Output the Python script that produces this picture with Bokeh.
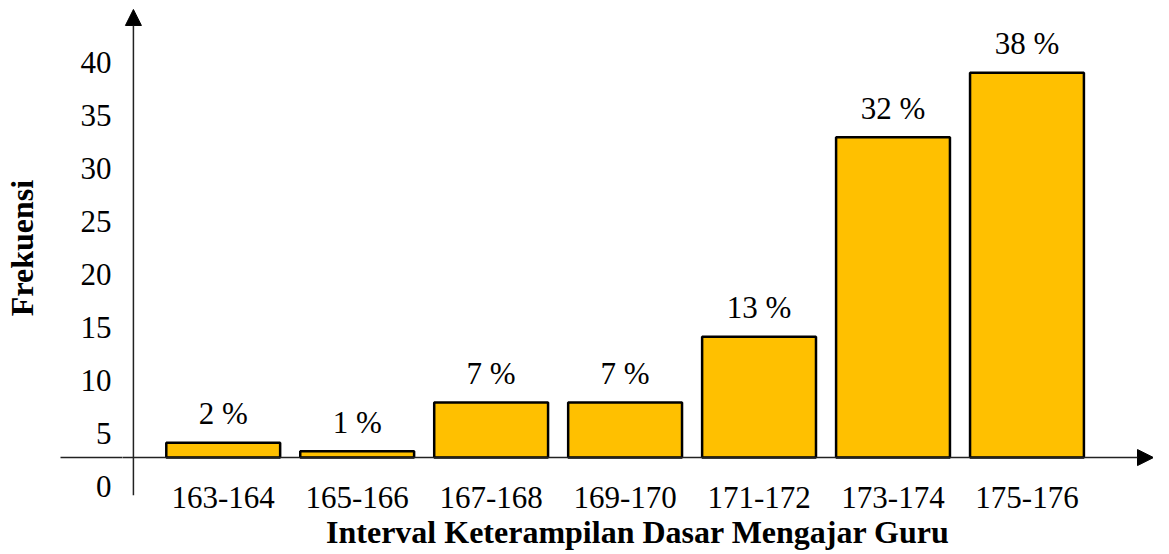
from bokeh.plotting import figure
from bokeh.models import Range1d, LinearAxis, FixedTicker, Arrow, NormalHead, ColumnDataSource
from bokeh.core.properties import value
from bokeh.embed import file_html
from bokeh.resources import INLINE

# ---- data ----
categories = ["163-164", "165-166", "167-168", "169-170", "171-172", "173-174", "175-176"]
frequencies = [1.4, 0.6, 5.2, 5.2, 11.4, 30.2, 36.3]
percentages = [2, 1, 7, 7, 13, 32, 38]
y_ticks = [0, 5, 10, 15, 20, 25, 30, 35, 40]
x_title = "Interval Keterampilan Dasar Mengajar Guru"
y_title = "Frekuensi"

# ---- layout constants (pixels) ----
W, H = 1153, 552
BORDER_L = 114
FRAME_H = 496
BORDER_B = H - FRAME_H
PX_PER_UNIT = 10.625
AXIS_LINE_Y = 458        # canvas y of the horizontal axis line
LABEL_SHIFT = 29         # y tick labels sit this much lower than the bar baseline
PX_PER_CAT = 135
FIRST_CENTER = 215.5
YAXIS_X = 125
ARROW_TIP_Y = 9
STUB = 62
FONT = "Liberation Serif"

x_start = (BORDER_L - FIRST_CENTER) / PX_PER_CAT
x_end = (W - FIRST_CENTER) / PX_PER_CAT
y_start = -(FRAME_H - AXIS_LINE_Y) / PX_PER_UNIT
y_end = AXIS_LINE_Y / PX_PER_UNIT
lbl_zero = AXIS_LINE_Y + LABEL_SHIFT
ly_start = -(FRAME_H - lbl_zero) / PX_PER_UNIT
ly_end = lbl_zero / PX_PER_UNIT

p = figure(width=W, height=H, x_range=Range1d(x_start, x_end), y_range=Range1d(y_start, y_end),
           x_axis_type=None, y_axis_type=None, output_backend="svg", toolbar_location=None,
           min_border_left=BORDER_L, min_border_bottom=BORDER_B, min_border_top=0, min_border_right=0)
p.outline_line_color = None
p.background_fill_color = "white"
p.border_fill_color = "white"
p.extra_y_ranges = {"lbl": Range1d(ly_start, ly_end)}

idx = list(range(len(categories)))
src = ColumnDataSource(dict(x=idx, top=frequencies, cat=categories,
                            label=[f"{v} %" for v in percentages]))

p.vbar(x="x", top="top", bottom=0, width=0.85, source=src,
       fill_color="#FFC000", line_color="black", line_width=2.5)
p.text(x="x", y="top", text="label", source=src, text_font=value(FONT), text_font_size="31px",
       text_align="center", text_baseline="alphabetic", y_offset=-29, text_color="black")

# x axis (category labels)
xa = LinearAxis(ticker=FixedTicker(ticks=idx), major_label_overrides={i: c for i, c in zip(idx, categories)},
                axis_label=x_title)
xa.axis_line_color = None
xa.major_tick_line_color = None
xa.minor_tick_line_color = None
xa.major_tick_out = 0
xa.major_tick_in = 0
xa.major_label_standoff = -9
xa.major_label_text_font = FONT
xa.major_label_text_font_size = "31px"
xa.major_label_text_color = "black"
xa.axis_label_text_font = FONT
xa.axis_label_text_font_size = "32px"
xa.axis_label_text_font_style = "bold"
xa.axis_label_text_color = "black"
xa.axis_label_standoff = 3
p.add_layout(xa, "below")

# y axis (tick labels, shifted); its minor tick draws the stub of the horizontal axis line
shift_val = LABEL_SHIFT / PX_PER_UNIT
ya = LinearAxis(y_range_name="lbl", ticker=FixedTicker(ticks=y_ticks, minor_ticks=[shift_val]),
                axis_label=y_title)
ya.axis_line_color = None
ya.major_tick_line_color = None
ya.major_tick_out = 0
ya.major_tick_in = 0
ya.minor_tick_in = 0
ya.minor_tick_out = STUB
ya.minor_tick_line_color = "#222222"
ya.minor_tick_line_width = 1.5
ya.major_label_standoff = 11 - STUB
ya.major_label_text_font = FONT
ya.major_label_text_font_size = "31px"
ya.major_label_text_color = "black"
ya.axis_label_text_font = FONT
ya.axis_label_text_font_size = "32px"
ya.axis_label_text_font_style = "bold"
ya.axis_label_text_color = "black"
ya.axis_label_standoff = 38
p.add_layout(ya, "left")

# axis lines with arrow heads
yax_x = (YAXIS_X - FIRST_CENTER) / PX_PER_CAT
p.add_layout(Arrow(end=NormalHead(size=16, fill_color="black", line_color="black", line_width=1),
                   x_start=yax_x, y_start=y_start, x_end=yax_x, y_end=(AXIS_LINE_Y - ARROW_TIP_Y) / PX_PER_UNIT,
                   line_color="#222222", line_width=1.5))
p.add_layout(Arrow(end=NormalHead(size=16, fill_color="black", line_color="black", line_width=1),
                   x_start=x_start, y_start=0, x_end=x_end, y_end=0,
                   line_color="#222222", line_width=1.5))

open("out.html", "w").write(file_html(p, INLINE))
